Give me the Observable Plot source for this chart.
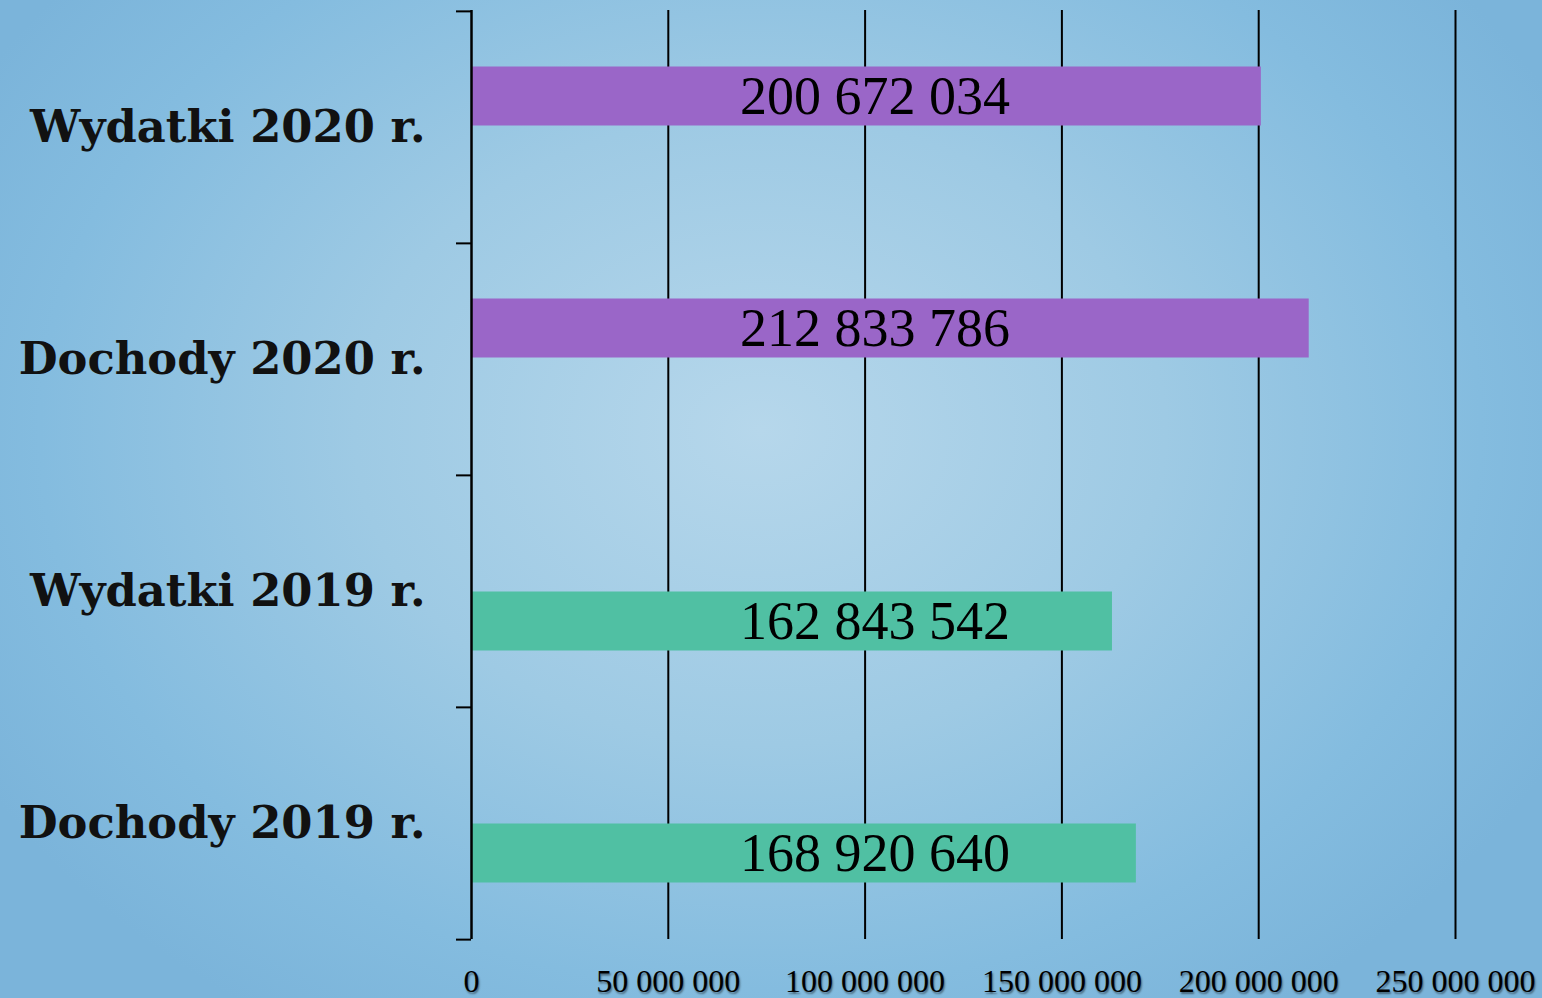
<!DOCTYPE html>
<html>
<head>
<meta charset="utf-8">
<script src="https://cdn.jsdelivr.net/npm/d3@7"></script>
<script src="https://cdn.jsdelivr.net/npm/@observablehq/plot@0.6"></script>
<style>
  html, body { margin: 0; padding: 0; }
  body {
    width: 1542px; height: 998px; overflow: hidden;
    background: radial-gradient(ellipse 900px 700px at 760px 430px, #b6d7eb 0%, #9ecae4 45%, #84bcdf 80%, #7bb4da 100%);
  }
  #chart svg { display: block; background: transparent; }
  .xt text { text-shadow: 1px 2px 2px rgba(0,0,0,0.45); }
</style>
</head>
<body>
<div id="chart"></div>
<script>
const categories = ["Wydatki 2020 r.", "Dochody 2020 r.", "Wydatki 2019 r.", "Dochody 2019 r."];
const values = [200672034, 212833786, 162843542, 168920640];
const years = ["2020", "2020", "2019", "2019"];
const labels = ["200 672 034", "212 833 786", "162 843 542", "168 920 640"];
const xTicks = [0, 50000000, 100000000, 150000000, 200000000, 250000000];

const data = categories.map((c, i) => ({category: c, value: values[i], year: years[i], label: labels[i]}));
const fmt = d => d3.format(",")(d).replace(/,/g, " ");
const step = (939 - 10) / categories.length;
const shift = {"2020": -31, "2019": 30};

const barMarks = ["2020", "2019"].flatMap(yr => {
  const sub = data.filter(d => d.year === yr);
  return [
    Plot.barX(sub, {x: "value", y: "category", fill: "year", insetTop: 86.5, insetBottom: 86.5, dy: shift[yr]}),
    Plot.text(sub, {
      x: () => 102500000, y: "category", text: "label", dy: shift[yr],
      fontFamily: "Liberation Serif", fontSize: 54, fill: "#000"
    })
  ];
});

const chart = Plot.plot({
  width: 1542,
  height: 998,
  marginLeft: 471,
  marginRight: 87,
  marginTop: 10,
  marginBottom: 59,
  style: {background: "transparent", overflow: "visible"},
  x: {domain: [0, 250000000], label: null},
  y: {domain: categories, padding: 0, label: null},
  color: {domain: ["2020", "2019"], range: ["#9a66c8", "#50c0a3"]},
  marks: [
    Plot.ruleX(xTicks.slice(1), {stroke: "#000", strokeWidth: 2}),
    ...barMarks,
    Plot.ruleX([0], {stroke: "#000", strokeWidth: 2.5}),
    Plot.axisY({tickSize: 15, tickFormat: null, dy: -step / 2, stroke: "#000", strokeWidth: 2, label: null}),
    Plot.axisY({ticks: [categories[categories.length - 1]], tickSize: 15, tickFormat: null, dy: step / 2, stroke: "#000", strokeWidth: 2, label: null}),
    Plot.axisY({
      tickSize: 0, tickPadding: 46, fontFamily: "DejaVu Serif", fontWeight: "bold",
      fontSize: 44.8, fill: "#111", tickFormat: d => d, label: null
    }),
    Plot.axisX(xTicks, {
      tickSize: 0, tickPadding: 30, tickFormat: fmt, fontFamily: "Liberation Serif",
      fontSize: 32, fill: "#000", className: "xt", label: null
    })
  ]
});

document.getElementById("chart").appendChild(chart);
</script>
</body>
</html>
